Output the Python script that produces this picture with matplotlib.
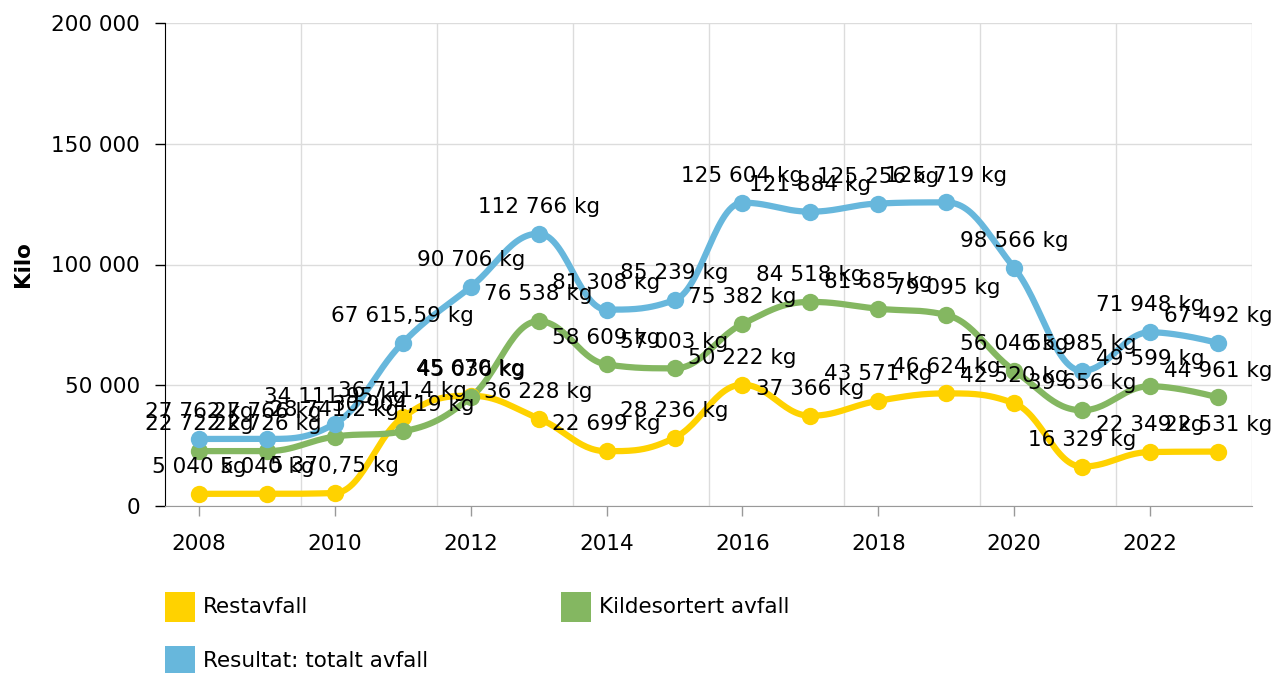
import numpy as np
import matplotlib
matplotlib.use("Agg")
import matplotlib.pyplot as plt
from matplotlib.patches import Rectangle

# ------------------------------------------------------------------
# Data
# ------------------------------------------------------------------
years = list(range(2008, 2024))
restavfall = [5040, 5040, 5370.75, 36711.4, 45670, 36228, 22699, 28236,
              50222, 37366, 43571, 46624, 42520, 16329, 22349, 22531]
kildesortert = [22722, 22726, 28741.2, 30904.19, 45036, 76538, 58609, 57003,
                75382, 84518, 81685, 79095, 56046, 39656, 49599, 44961]
totalt = [27762, 27766, 34111.95, 67615.59, 90706, 112766, 81308, 85239,
          125604, 121884, 125256, 125719, 98566, 55985, 71948, 67492]

series_names = ["Restavfall", "Kildesortert avfall", "Resultat: totalt avfall"]
series_colors = ["#FFD200", "#84B761", "#67B7DC"]

y_ticks = [0, 50000, 100000, 150000, 200000]
y_ticklabels = ["0", "50 000", "100 000", "150 000", "200 000"]
x_ticks = [2008, 2010, 2012, 2014, 2016, 2018, 2020, 2022]


def fmt_kg(v):
    s = f"{v:,.2f}".rstrip("0").rstrip(".")
    s = s.replace(",", " ").replace(".", ",")
    return s + " kg"


def spline_curve(xs, ys, n=30):
    """Highcharts-style spline: cubic beziers with smoothing 1.5."""
    xs = np.asarray(xs, float)
    ys = np.asarray(ys, float)
    k = len(xs)
    lc = [(xs[i], ys[i]) for i in range(k)]
    rc = [(xs[i], ys[i]) for i in range(k)]
    sm, den = 1.5, 2.5
    for i in range(1, k - 1):
        x, y = xs[i], ys[i]
        lx, ly = xs[i - 1], ys[i - 1]
        nx, ny = xs[i + 1], ys[i + 1]
        lcx, lcy = (sm * x + lx) / den, (sm * y + ly) / den
        rcx, rcy = (sm * x + nx) / den, (sm * y + ny) / den
        corr = (rcy - lcy) * (rcx - x) / (rcx - lcx) + y - rcy
        lcy += corr
        rcy += corr
        if lcy > ly and lcy > y:
            lcy = max(ly, y)
            rcy = 2 * y - lcy
        elif lcy < ly and lcy < y:
            lcy = min(ly, y)
            rcy = 2 * y - lcy
        if rcy > ny and rcy > y:
            rcy = max(ny, y)
            lcy = 2 * y - rcy
        elif rcy < ny and rcy < y:
            rcy = min(ny, y)
            lcy = 2 * y - rcy
        lc[i] = (lcx, lcy)
        rc[i] = (rcx, rcy)
    t = np.linspace(0, 1, n)[:, None]
    pts = []
    for i in range(k - 1):
        p0 = np.array([xs[i], ys[i]])
        p1 = np.array(rc[i])
        p2 = np.array(lc[i + 1])
        p3 = np.array([xs[i + 1], ys[i + 1]])
        b = ((1 - t) ** 3) * p0 + 3 * ((1 - t) ** 2) * t * p1 \
            + 3 * (1 - t) * t ** 2 * p2 + t ** 3 * p3
        pts.append(b if i == 0 else b[1:])
    pts = np.vstack(pts)
    return pts[:, 0], pts[:, 1]


plt.rcParams["font.family"] = ["DejaVu Sans"]
FS = 15.5

fig = plt.figure(figsize=(12.75, 6.73), dpi=100)
ax = fig.add_axes([165 / 1275, 1 - 506 / 673, (1252 - 165) / 1275, (506 - 23) / 673])

for vals, color in zip([restavfall, kildesortert, totalt], series_colors):
    cx, cy = spline_curve(years, vals)
    ax.plot(cx, cy, color=color, lw=4.5, solid_capstyle="round", zorder=3)
    ax.plot(years, vals, "o", color=color, ms=12.5, mec="none", zorder=4)
    for x, v in zip(years, vals):
        ax.annotate(fmt_kg(v), (x, v), xytext=(0, 15), textcoords="offset points",
                    ha="center", va="baseline", fontsize=FS, color="black", zorder=6)

ax.set_xlim(2007.5, 2023.5)
ax.set_ylim(0, 200000)
ax.set_yticks(y_ticks)
ax.set_yticklabels(y_ticklabels)
ax.set_xticks(x_ticks)
ax.set_xticklabels([str(x) for x in x_ticks])
ax.set_xticks(np.arange(2009.5, 2024, 2), minor=True)
ax.tick_params(axis="x", which="minor", length=0)
ax.grid(axis="x", which="minor", color="#dcdcdc", lw=1, zorder=0)
ax.grid(axis="y", which="major", color="#dcdcdc", lw=1, zorder=0)
ax.set_axisbelow(True)

ax.tick_params(axis="y", length=7, width=1, pad=11, labelsize=FS, color="black")
ax.tick_params(axis="x", which="major", length=7, width=1, pad=13, labelsize=FS,
               color="#999999")
for side in ["top", "right"]:
    ax.spines[side].set_visible(False)
ax.spines["left"].set_color("black")
ax.spines["bottom"].set_color("#999999")

fig.text(23 / 1275, 1 - 264 / 673, "Kilo", rotation=90, ha="center", va="center",
         fontsize=FS, fontweight="bold")

# Legend
legend_pos = [(165, 607), (561, 607), (165, 661)]
for (lx, ly), name, color in zip(legend_pos, series_names, series_colors):
    fig.patches.append(Rectangle((lx / 1275, 1 - (ly + 15) / 673), 30 / 1275, 30 / 673,
                                 transform=fig.transFigure, facecolor=color,
                                 edgecolor="none"))
    fig.text((lx + 38) / 1275, 1 - ly / 673, name, ha="left", va="center", fontsize=FS)

fig.savefig("out.png", dpi=100)
